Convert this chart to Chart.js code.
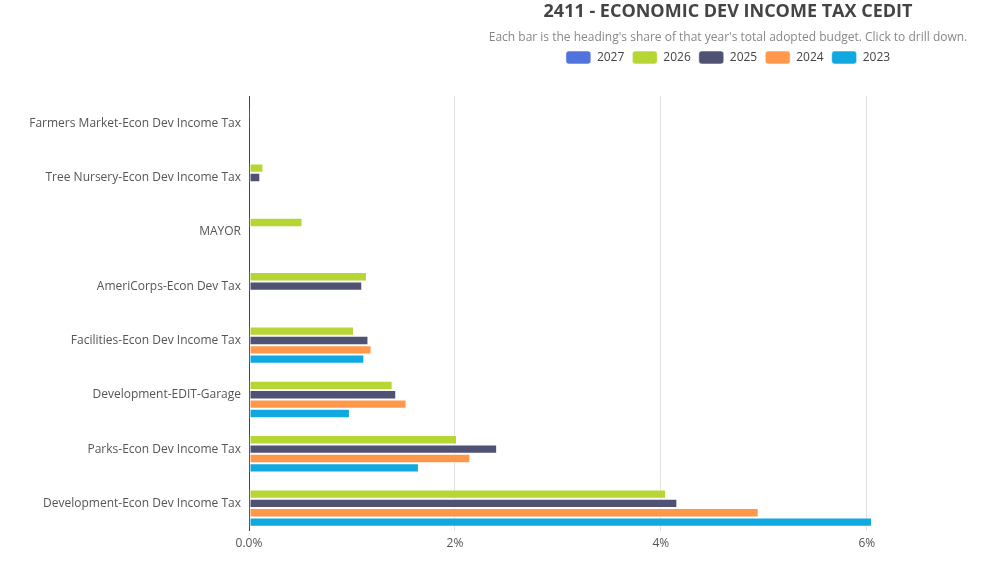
<!DOCTYPE html>
<html>
<head>
<meta charset="utf-8">
<script src="https://cdn.jsdelivr.net/npm/chart.js@4"></script>
<style>
  html, body { margin: 0; padding: 0; background: #fff; overflow: hidden; }
  #wrap { position: relative; width: 1456px; height: 566px; }
</style>
</head>
<body>
<div id="wrap"><canvas id="edit-chart"></canvas></div>
<script>
const categories = [
    'Farmers Market-Econ Dev Income Tax',
    'Tree Nursery-Econ Dev Income Tax',
    'MAYOR',
    'AmeriCorps-Econ Dev Tax',
    'Facilities-Econ Dev Income Tax',
    'Development-EDIT-Garage',
    'Parks-Econ Dev Income Tax',
    'Development-Econ Dev Income Tax'
];

const years = ['2027', '2026', '2025', '2024', '2023'];

// share of the year's total adopted budget, in percent
const values2027 = [null, null, null, null, null, null, null, null];
const values2026 = [0.01, 0.14, 0.52, 1.145, 1.02, 1.395, 2.02, 4.05];
const values2025 = [0.008, 0.11, null, 1.10, 1.16, 1.43, 2.41, 4.16];
const values2024 = [null, null, null, null, 1.19, 1.53, 2.15, 4.95];
const values2023 = [null, null, null, null, 1.12, 0.98, 1.65, 6.05];

const xTicks = [0, 2, 4, 6];

const colors = ['#5073de', '#b6d634', '#4f5272', '#ff984b', '#0fa9e0'];
const series = [values2027, values2026, values2025, values2024, values2023];

const fontFamily = '"Open Sans", "Noto Sans", sans-serif';

// extra room under the legend
const legendGap = {
    id: 'legendGap',
    beforeInit(chart) {
        const fit = chart.legend.fit;
        chart.legend.fit = function () {
            fit.bind(chart.legend)();
            this.height += 22;
        };
    }
};

const ctx = document.getElementById('edit-chart').getContext('2d');

new Chart(ctx, {
    type: 'bar',
    data: {
        labels: categories,
        datasets: years.map((year, i) => ({
            label: year,
            data: series[i],
            backgroundColor: colors[i],
            borderColor: 'rgba(255, 255, 255, 0.55)',
            borderWidth: 1,
            borderSkipped: false,
            categoryPercentage: 0.86,
            barPercentage: 1.0
        }))
    },
    options: {
        indexAxis: 'y',
        responsive: true,
        maintainAspectRatio: false,
        animation: false,
        layout: {
            padding: { top: 0, bottom: 9, left: 0, right: 0 }
        },
        plugins: {
            title: {
                display: true,
                text: '2411 - ECONOMIC DEV INCOME TAX CEDIT',
                color: '#444',
                font: { family: fontFamily, size: 18, weight: 'bold' },
                padding: { top: 1, bottom: 7 }
            },
            subtitle: {
                display: true,
                text: "Each bar is the heading's share of that year's total adopted budget. Click to drill down.",
                color: '#888',
                font: { family: fontFamily, size: 12 },
                padding: { top: 1, bottom: -2 }
            },
            legend: {
                display: true,
                position: 'top',
                labels: {
                    color: '#444',
                    font: { family: fontFamily, size: 12 },
                    boxWidth: 25,
                    boxHeight: 13,
                    useBorderRadius: true,
                    borderRadius: 3,
                    padding: 8
                }
            },
            tooltip: {
                callbacks: {
                    label: function (context) {
                        return context.dataset.label + ': ' + context.parsed.x.toFixed(2) + '%';
                    }
                }
            }
        },
        scales: {
            x: {
                min: 0,
                max: 6.4,
                afterBuildTicks: function (axis) {
                    axis.ticks = xTicks.map(v => ({ value: v }));
                },
                ticks: {
                    color: '#555',
                    font: { family: fontFamily, size: 12 },
                    padding: 6,
                    callback: function (value) {
                        return value === 0 ? '0.0%' : value + '%';
                    }
                },
                grid: { color: '#e1e1e1', drawTicks: false },
                border: { display: false }
            },
            y: {
                afterFit: function (scale) {
                    scale.width = 249;
                },
                ticks: {
                    color: '#555',
                    font: { family: fontFamily, size: 12 },
                    padding: 8
                },
                grid: { display: false, drawTicks: false },
                border: { display: true, color: '#444', width: 1 }
            },
            // empty space on the right so the headings sit where the original had them
            spacer: {
                axis: 'y',
                type: 'category',
                position: 'right',
                afterFit: function (scale) {
                    scale.width = 548;
                },
                ticks: { display: false },
                grid: { display: false },
                border: { display: false }
            }
        }
    },
    plugins: [legendGap]
});
</script>
</body>
</html>
